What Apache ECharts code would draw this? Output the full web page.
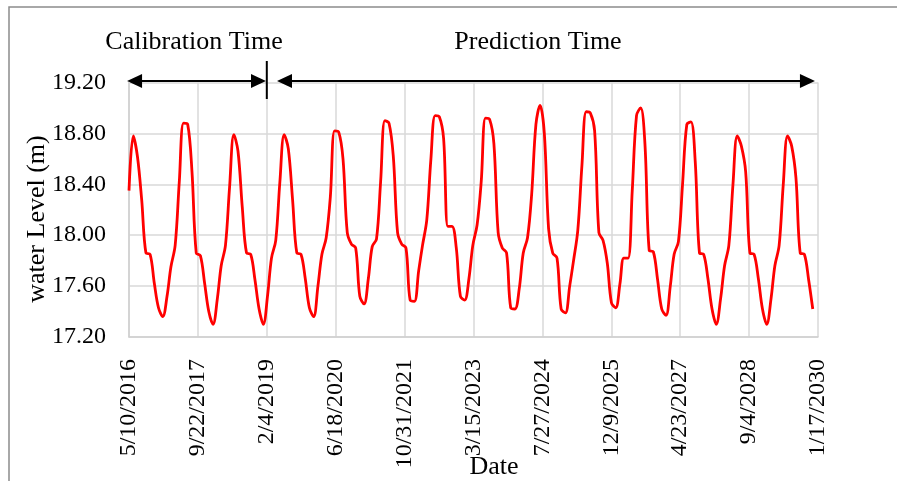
<!DOCTYPE html>
<html>
<head>
<meta charset="utf-8">
<script src="https://cdn.jsdelivr.net/npm/echarts@6/dist/echarts.min.js"></script>
<style>
  html, body { margin: 0; padding: 0; background: #fff; }
  #chart { width: 897px; height: 481px; }
</style>
</head>
<body>
<div id="chart"></div>
<script>
// monthly water level (m), first value is May 2016, one value per month (10th)
const firstMonth = [2016, 4, 10]
const levels = [
  /* 2016 May-Dec */ 18.35, 18.78, 18.62, 18.28, 17.86, 17.85, 17.62, 17.43,
  /* 2017 */ 17.36, 17.52, 17.75, 17.92, 18.42, 18.88, 18.87, 18.50, 17.86, 17.84, 17.62, 17.40,
  /* 2018 */ 17.30, 17.50, 17.76, 17.92, 18.38, 18.79, 18.66, 18.22, 17.86, 17.85, 17.65, 17.42,
  /* 2019 */ 17.30, 17.53, 17.82, 17.96, 18.42, 18.79, 18.68, 18.28, 17.86, 17.85, 17.66, 17.43,
  /* 2020 */ 17.36, 17.60, 17.85, 17.98, 18.30, 18.82, 18.81, 18.60, 18.02, 17.93, 17.90, 17.52,
  /* 2021 */ 17.46, 17.66, 17.91, 17.97, 18.42, 18.90, 18.88, 18.62, 18.02, 17.93, 17.90, 17.49,
  /* 2022 */ 17.48, 17.72, 17.92, 18.12, 18.60, 18.94, 18.93, 18.76, 18.07, 18.07, 17.90, 17.52,
  /* 2023 */ 17.49, 17.66, 17.92, 18.08, 18.42, 18.92, 18.91, 18.72, 18.02, 17.90, 17.86, 17.43,
  /* 2024 */ 17.42, 17.58, 17.86, 17.98, 18.32, 18.87, 19.02, 18.80, 18.05, 17.86, 17.82, 17.42,
  /* 2025 */ 17.39, 17.60, 17.80, 18.04, 18.55, 18.97, 18.96, 18.82, 18.02, 17.96, 17.78, 17.47,
  /* 2026 */ 17.43, 17.62, 17.82, 17.82, 18.35, 18.94, 19.00, 18.72, 17.88, 17.87, 17.65, 17.42,
  /* 2027 */ 17.37, 17.60, 17.85, 17.95, 18.40, 18.87, 18.89, 18.58, 17.86, 17.85, 17.66, 17.42,
  /* 2028 */ 17.30, 17.50, 17.76, 17.92, 18.40, 18.78, 18.70, 18.50, 17.86, 17.85, 17.66, 17.42,
  /* 2029 */ 17.30, 17.50, 17.76, 17.92, 18.40, 18.78, 18.70, 18.45, 17.86, 17.85, 17.65, 17.42
]
// x axis ticks every 500 days from 5/10/2016
const xTickLabels = ['5/10/2016', '9/22/2017', '2/4/2019', '6/18/2020', '10/31/2021', '3/15/2023',
  '7/27/2024', '12/9/2025', '4/23/2027', '9/4/2028', '1/17/2030']
const xTickStep = 500
// calibration / prediction split, in days from 5/10/2016 (2/4/2019)
const splitDay = 1000
// arrow spans (days from 5/10/2016)
const calibSpan = [-14, 994]
const predSpan = [1074, 4978]

const DAY = 86400000
const t0 = Date.UTC(firstMonth[0], firstMonth[1], firstMonth[2])
const seriesData = levels.map((v, i) => {
  const t = Date.UTC(firstMonth[0], firstMonth[1] + i, firstMonth[2])
  return [Math.round((t - t0) / DAY), v]
})

const font = "'Liberation Serif', 'Times New Roman', serif"
const gridColor = '#d9d9d9'

const chart = echarts.init(document.getElementById('chart'))
chart.setOption({
  animation: false,
  backgroundColor: '#fff',
  grid: { left: 129, top: 82.5, width: 689, height: 254.5 },
  xAxis: {
    type: 'value',
    min: 0,
    max: xTickStep * (xTickLabels.length - 1),
    interval: xTickStep,
    axisLine: { show: true, lineStyle: { color: '#cfcfcf', width: 1.5 } },
    axisTick: { show: false },
    axisLabel: {
      rotate: 90,
      margin: 22,
      color: '#000',
      fontFamily: font,
      fontSize: 24,
      showMaxLabel: true,
      formatter: v => xTickLabels[Math.round(v / xTickStep)] || ''
    },
    splitLine: { show: true, lineStyle: { color: gridColor, width: 1.5 } }
  },
  yAxis: {
    type: 'value',
    min: 17.2,
    max: 19.2,
    interval: 0.4,
    axisLine: { show: true, lineStyle: { color: '#cfcfcf', width: 1.5 } },
    axisTick: { show: false },
    axisLabel: {
      margin: 23,
      color: '#000',
      fontFamily: font,
      fontSize: 24,
      formatter: v => v.toFixed(2)
    },
    splitLine: { show: true, lineStyle: { color: gridColor, width: 1.5 } }
  },
  series: [{
    type: 'line',
    data: seriesData,
    showSymbol: false,
    smooth: 0.35,
    color: '#ff0000',
    lineStyle: { color: '#ff0000', width: 2.8 }
  }]
})

// arrows and split mark, placed from the axis scales
const px = (d, v) => chart.convertToPixel({ gridIndex: 0 }, [d, v])
const yArrow = px(0, 19.2)[1] - 1.5
const head = 15
const half = 7
function arrow(span) {
  const a = px(span[0], 19.2)[0]
  const b = px(span[1], 19.2)[0]
  return [
    { type: 'line', shape: { x1: a + head - 1, y1: yArrow, x2: b - head + 1, y2: yArrow }, style: { stroke: '#000', lineWidth: 2 } },
    { type: 'polygon', shape: { points: [[a, yArrow], [a + head, yArrow - half], [a + head, yArrow + half]] }, style: { fill: '#000' } },
    { type: 'polygon', shape: { points: [[b, yArrow], [b - head, yArrow - half], [b - head, yArrow + half]] }, style: { fill: '#000' } }
  ]
}
const splitX = px(splitDay, 19.2)[0]

chart.setOption({
  graphic: [
    {
      type: 'rect',
      shape: { x: 9, y: 7, width: 900, height: 490 },
      style: { fill: 'none', stroke: '#8c8c8c', lineWidth: 1.5 },
      silent: true
    },
    ...arrow(calibSpan),
    ...arrow(predSpan),
    { type: 'line', shape: { x1: splitX, y1: yArrow - 20, x2: splitX, y2: yArrow + 18 }, style: { stroke: '#000', lineWidth: 2 } },
    {
      type: 'text', x: 194, y: 42,
      style: { text: 'Calibration Time', font: '26px ' + font, fill: '#000', align: 'center', verticalAlign: 'middle' }
    },
    {
      type: 'text', x: 538, y: 42,
      style: { text: 'Prediction Time', font: '26px ' + font, fill: '#000', align: 'center', verticalAlign: 'middle' }
    },
    {
      type: 'text', x: 37, y: 219, rotation: Math.PI / 2,
      style: { text: 'water Level (m)', font: '26px ' + font, fill: '#000', align: 'center', verticalAlign: 'middle' }
    },
    {
      type: 'text', x: 494, y: 467,
      style: { text: 'Date', font: '26px ' + font, fill: '#000', align: 'center', verticalAlign: 'middle' }
    }
  ]
})
</script>
</body>
</html>
